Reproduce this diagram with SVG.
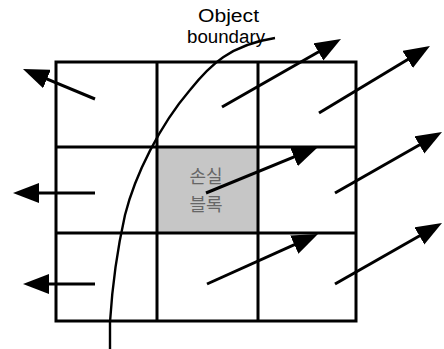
<svg xmlns="http://www.w3.org/2000/svg" width="444" height="349" viewBox="0 0 444 349">
<style>
.grid{fill:none;stroke:#000;stroke-width:3}
.arr{fill:none;stroke:#000;stroke-width:3;marker-end:url(#ah)}
.bnd{fill:none;stroke:#000;stroke-width:2.4}
.lbl{font-family:"Liberation Sans",Arial,sans-serif;font-size:18px;fill:#000}
.ko{font-family:"Noto Sans CJK KR","Noto Sans",sans-serif;font-size:18px;fill:#666;text-anchor:middle}
</style>
<defs>
<marker id="ah" markerUnits="userSpaceOnUse" viewBox="0 0 26 20" markerWidth="26" markerHeight="20" refX="16" refY="10" orient="auto">
<path d="M0,0 L26,10 L0,20 z" fill="#000"/>
</marker>
</defs>
<rect width="444" height="349" fill="#fff"/>
<g id="lost-block">
<rect x="157" y="147" width="101" height="86" fill="#c6c6c6"/>
<text class="ko" x="206" y="183">손실</text>
<text class="ko" x="206" y="211">블록</text>
</g>
<g id="grid">
<rect class="grid" x="56" y="62" width="300" height="259"/>
<line class="grid" x1="157" y1="62" x2="157" y2="321"/>
<line class="grid" x1="258" y1="62" x2="258" y2="321"/>
<line class="grid" x1="56" y1="147" x2="356" y2="147"/>
<line class="grid" x1="56" y1="233" x2="356" y2="233"/>
</g>
<g id="boundary">
<path class="bnd" d="M110,349 L110,322 C112,290 116,255 125,215 C135,175 160,125 190,90 C210,65 230,45 275,38"/>
<text class="lbl" x="198" y="22" textLength="61" lengthAdjust="spacingAndGlyphs">Object</text>
<text class="lbl" x="187" y="43" textLength="78" lengthAdjust="spacingAndGlyphs">boundary</text>
</g>
<g id="connectors">
<line class="arr" x1="95" y1="99" x2="32.2" y2="72.8"/>
<line class="arr" x1="222" y1="107" x2="332.3" y2="44"/>
<line class="arr" x1="319" y1="113" x2="421.4" y2="51.2"/>
<line class="arr" x1="206" y1="193" x2="308.8" y2="150.8"/>
<line class="arr" x1="335" y1="193" x2="433.3" y2="137"/>
<line class="arr" x1="95" y1="193" x2="23" y2="193"/>
<line class="arr" x1="95" y1="284" x2="33" y2="284"/>
<line class="arr" x1="207" y1="284" x2="308.9" y2="238.1"/>
<line class="arr" x1="335" y1="284" x2="433.3" y2="228"/>
</g>
</svg>
